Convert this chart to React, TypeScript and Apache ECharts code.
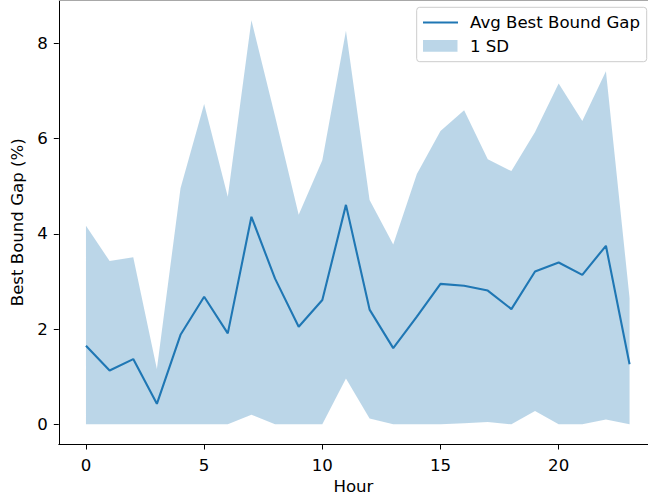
import React, { useEffect, useRef } from "react";
import * as echarts from "echarts";

const hours = [0, 1, 2, 3, 4, 5, 6, 7, 8, 9, 10, 11, 12, 13, 14, 15, 16, 17, 18, 19, 20, 21, 22, 23];
const meanGap = [1.65, 1.13, 1.37, 0.43, 1.88, 2.68, 1.91, 4.36, 3.06, 2.05, 2.61, 4.61, 2.41, 1.60, 2.26, 2.95, 2.91, 2.81, 2.42, 3.21, 3.40, 3.14, 3.75, 1.26];
const upperGap = [4.17, 3.43, 3.51, 1.16, 4.96, 6.73, 4.78, 8.49, 6.47, 4.40, 5.55, 8.27, 4.71, 3.78, 5.26, 6.16, 6.60, 5.57, 5.32, 6.14, 7.16, 6.37, 7.42, 2.65];
const lowerGap = [0, 0, 0, 0, 0, 0, 0, 0.2, 0, 0, 0, 0.96, 0.12, 0, 0, 0, 0.02, 0.05, 0, 0.28, 0, 0, 0.1, 0];
const xTicks = [0, 5, 10, 15, 20];
const yTicks = [0, 2, 4, 6, 8];

const FONT = "DejaVu Sans";
const FS = 16.6;
const BLUE = "#1f77b4";
const BAND = "rgba(31,119,180,0.3)";

export default function App() {
  const ref = useRef<HTMLDivElement>(null);
  useEffect(() => {
    if (!ref.current) return;
    const chart = echarts.init(ref.current, null, { renderer: "svg" });
    const gridLeft = 58.8;
    const gridWidth = 648 - 58.8;
    const option: any = {
      animation: false,
      backgroundColor: "#ffffff",
      textStyle: { fontFamily: FONT },
      grid: { left: gridLeft, top: 0, width: gridWidth, height: 444.5, containLabel: false },
      xAxis: {
        type: "value",
        min: -1.15,
        max: 23.78,
        name: "Hour",
        nameLocation: "middle",
        nameGap: 33,
        nameTextStyle: { color: "#000", fontSize: FS, fontFamily: FONT },
        axisLine: { show: true, onZero: false, lineStyle: { color: "#000", width: 1 } },
        axisTick: { show: true, length: 5, lineStyle: { color: "#000", width: 1 }, customValues: xTicks },
        axisLabel: { color: "#000", fontSize: FS, fontFamily: FONT, margin: 12, customValues: xTicks },
        splitLine: { show: false },
      },
      yAxis: {
        type: "value",
        min: -0.4245,
        max: 8.9145,
        name: "Best Bound Gap (%)",
        nameLocation: "middle",
        nameGap: 28,
        nameTextStyle: { color: "#000", fontSize: FS, fontFamily: FONT },
        axisLine: { show: true, onZero: false, lineStyle: { color: "#000", width: 1 } },
        axisTick: { show: true, length: 5, lineStyle: { color: "#000", width: 1 }, customValues: yTicks },
        axisLabel: { color: "#000", fontSize: FS, fontFamily: FONT, margin: 11, customValues: yTicks },
        splitLine: { show: false },
      },
      series: [
        {
          type: "custom",
          name: "1 SD",
          data: hours.map((h, i) => [h, lowerGap[i], upperGap[i]]),
          encode: { x: 0, y: [1, 2] },
          silent: true,
          z: 1,
          renderItem: (params: any, api: any) => {
            if (params.dataIndex !== 0) return { type: "group", children: [] };
            const pts: number[][] = [];
            for (let i = 0; i < hours.length; i++) pts.push(api.coord([hours[i], upperGap[i]]));
            for (let i = hours.length - 1; i >= 0; i--) pts.push(api.coord([hours[i], lowerGap[i]]));
            return {
              type: "polygon",
              shape: { points: pts },
              style: { fill: BAND, stroke: "none" },
            };
          },
        },
        {
          type: "line",
          name: "Avg Best Bound Gap",
          data: hours.map((h, i) => [h, meanGap[i]]),
          showSymbol: false,
          symbol: "none",
          lineStyle: { color: BLUE, width: 2.1 },
          itemStyle: { color: BLUE },
          z: 3,
        },
      ],
      graphic: [
        { type: "line", shape: { x1: gridLeft, y1: 0.5, x2: 648, y2: 0.5 }, style: { stroke: "#a8a8a8", lineWidth: 1 }, z: 10 },
        {
          type: "rect",
          shape: { x: 416.7, y: 7.3, width: 230, height: 54.4, r: 3 },
          style: { fill: "rgba(255,255,255,0.8)", stroke: "#cccccc", lineWidth: 1 },
          z: 20,
        },
        { type: "line", shape: { x1: 423, y1: 22.5, x2: 458, y2: 22.5 }, style: { stroke: BLUE, lineWidth: 2.1 }, z: 21 },
        { type: "rect", shape: { x: 423, y: 40, width: 34.5, height: 11.7 }, style: { fill: BAND }, z: 21 },
        {
          type: "text",
          x: 470,
          y: 22.5,
          style: { text: "Avg Best Bound Gap", fill: "#000", font: `${FS}px '${FONT}'`, verticalAlign: "middle", align: "left" },
          z: 21,
        },
        {
          type: "text",
          x: 470,
          y: 46,
          style: { text: "1 SD", fill: "#000", font: `${FS}px '${FONT}'`, verticalAlign: "middle", align: "left" },
          z: 21,
        },
      ],
    };
    chart.setOption(option);
    return () => chart.dispose();
  }, []);
  return <div ref={ref} style={{ position: "fixed", left: 0, top: 0, width: 648, height: 502 }} />;
}
